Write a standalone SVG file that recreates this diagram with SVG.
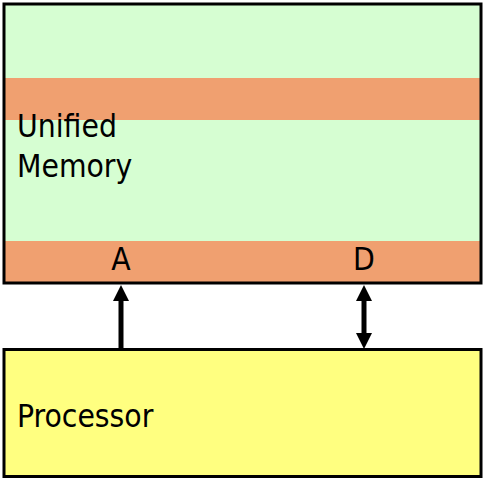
<svg xmlns="http://www.w3.org/2000/svg" width="488" height="480" viewBox="0 0 488 480">
<defs>
<style>
.lbl{font-family:"DejaVu Sans Condensed","DejaVu Sans",sans-serif;font-stretch:condensed;font-size:31.5px;fill:#000}
.box{stroke:#000;stroke-width:3}
.wire{stroke:#000;stroke-width:5;fill:none}
</style>
<marker id="ah" markerUnits="userSpaceOnUse" viewBox="0 0 16 16" markerWidth="16" markerHeight="16" refX="0" refY="8" orient="auto-start-reverse">
<path d="M0,0 L16,8 L0,16 z" fill="#000"/>
</marker>
</defs>
<rect width="488" height="480" fill="#fff"/>
<g id="memory">
<rect x="4" y="4" width="477" height="279" fill="#D6FED2"/>
<rect x="4" y="78" width="477" height="42" fill="#F0A070"/>
<rect x="4" y="241" width="477" height="42" fill="#F0A070"/>
<rect class="box" x="4" y="4" width="477" height="279" fill="none"/>
<text class="lbl" x="17" y="137">Unified</text>
<text class="lbl" x="17" y="177">Memory</text>
<text class="lbl" x="121" y="270" text-anchor="middle">A</text>
<text class="lbl" x="364" y="270" text-anchor="middle">D</text>
</g>
<g id="processor">
<rect class="box" x="4" y="349.5" width="477" height="127" fill="#FFFF80"/>
<text class="lbl" x="17" y="427">Processor</text>
</g>
<g id="connectors">
<line class="wire" x1="121" y1="348" x2="121" y2="301" marker-end="url(#ah)"/>
<line class="wire" x1="364" y1="301" x2="364" y2="333" marker-start="url(#ah)" marker-end="url(#ah)"/>
</g>
</svg>
